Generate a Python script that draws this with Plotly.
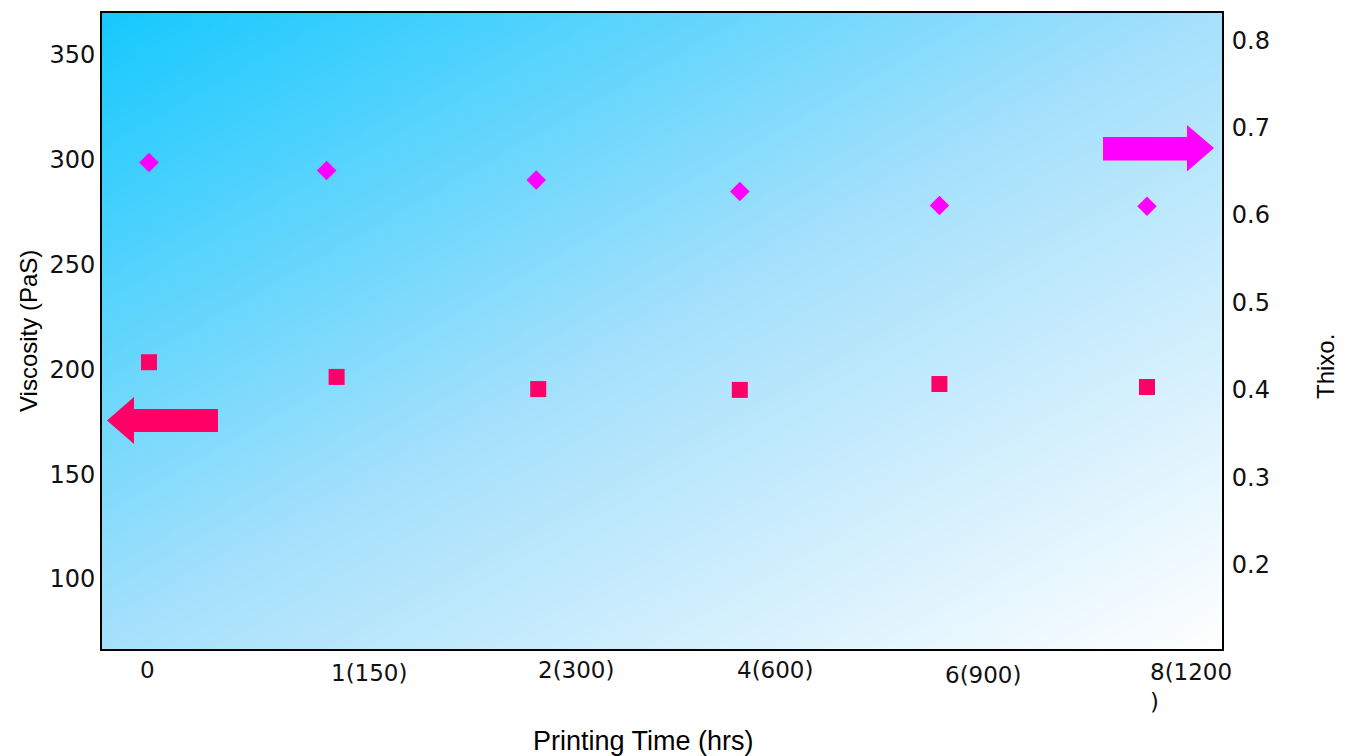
import base64, struct, zlib
import numpy as np
import plotly.graph_objects as go

# ---------------- data ----------------
categories = ["0", "1(150)", "2(300)", "4(600)", "6(900)", "8(1200<br>)"]
x_thixo = [0.0, 0.89, 1.94, 2.96, 3.96, 5.0]
thixo = [0.660, 0.651, 0.640, 0.627, 0.611, 0.610]
x_visc = [0.0, 0.94, 1.95, 2.96, 3.96, 5.0]
viscosity = [203.4, 196.4, 190.6, 190.2, 193.0, 191.6]
left_ticks = [100, 150, 200, 250, 300, 350]
right_ticks = [0.2, 0.3, 0.4, 0.5, 0.6, 0.7, 0.8]

# label nudges (style only)
label_dx = [-11, -8, -2, -5, 4, 1]
label_dy = [0, -3, 0, 0, -5, -2]

# ---------------- layout geometry ----------------
W, H = 1349, 756
L, R, T, B = 102, 1222, 13, 649
PW, PH = R - L, B - T


def px(x, y):
    return (x - L) / PW, (B - y) / PH


# ---------------- gradient background (PNG) ----------------
def gradient_png(w, h):
    u = np.linspace(0, 1, w)[None, :]
    v = np.linspace(0, 1, h)[:, None]
    t = (u + v) / 2.0
    c0 = np.array([22, 201, 254], float)
    c1 = np.array([166, 225, 252], float)
    c2 = np.array([255, 255, 255], float)
    t3 = t[..., None]
    a = np.where(t3 < 0.5, c0 + (c1 - c0) * (t3 / 0.5), c1 + (c2 - c1) * ((t3 - 0.5) / 0.5))
    img = np.clip(a, 0, 255).astype(np.uint8)
    raw = b"".join(b"\x00" + img[i].tobytes() for i in range(h))

    def chunk(tag, data):
        c = struct.pack(">I", len(data)) + tag + data
        return c + struct.pack(">I", zlib.crc32(tag + data) & 0xFFFFFFFF)

    png = b"\x89PNG\r\n\x1a\n" + chunk(b"IHDR", struct.pack(">IIBBBBB", w, h, 8, 2, 0, 0, 0))
    png += chunk(b"IDAT", zlib.compress(raw, 9)) + chunk(b"IEND", b"")
    return "data:image/png;base64," + base64.b64encode(png).decode()


bg = gradient_png(PW, PH)

fig = go.Figure()
fig.add_trace(go.Scatter(
    x=x_visc, y=viscosity, mode="markers", yaxis="y",
    marker=dict(symbol="square", size=16, color="#ff0066", line=dict(width=0)),
    showlegend=False,
))
fig.add_trace(go.Scatter(
    x=x_thixo, y=thixo, mode="markers", yaxis="y2",
    marker=dict(symbol="diamond", size=15, color="#ff00ff", line=dict(width=0)),
    showlegend=False,
))

tick_font = dict(family="DejaVu Sans, sans-serif", size=24, color="#111111")
title_font = dict(family="Liberation Sans, Arial, sans-serif", size=24, color="#000000")

fig.update_layout(
    width=W, height=H,
    margin=dict(l=L, r=W - R, t=T, b=H - B, pad=0),
    paper_bgcolor="white",
    plot_bgcolor="rgba(0,0,0,0)",
    xaxis=dict(range=[-(149 - L) / 199.6, 5 + (R - 1147) / 199.6], showgrid=False, zeroline=False,
               showticklabels=False, ticks="", showline=True, linecolor="black", linewidth=2, mirror=True),
    yaxis=dict(range=[66.6, 370.0], tickvals=left_ticks, showgrid=False, zeroline=False, ticks="",
               tickfont=tick_font, ticklabelstandoff=0, showline=True, linecolor="black", linewidth=2,
               mirror=True),
    yaxis2=dict(range=[0.104, 0.831], tickvals=right_ticks, overlaying="y", side="right", showgrid=False,
                zeroline=False, ticks="", tickfont=tick_font, ticklabelstandoff=3,
                showline=True, linecolor="black", linewidth=2),
    images=[dict(source=bg, xref="paper", yref="paper", x=0, y=1, sizex=1, sizey=1,
                 sizing="stretch", layer="below", xanchor="left", yanchor="top")],
)

# category labels (left-aligned at each group's position)
ann = []
for i, lab in enumerate(categories):
    ann.append(dict(x=x_visc[i], y=-0.01, xref="x", yref="paper", text=lab, showarrow=False,
                    xanchor="left", yanchor="top", align="left", xshift=label_dx[i], yshift=label_dy[i],
                    font=dict(family="DejaVu Sans, sans-serif", size=23, color="#111111")))
# axis titles
ann.append(dict(x=(643 - L) / PW, y=(B - 741) / PH, xref="paper", yref="paper", text="Printing Time (hrs)",
                showarrow=False, font=dict(family="Liberation Sans, Arial, sans-serif", size=27, color="#000"),
                xanchor="center", yanchor="middle"))
ann.append(dict(x=(28 - L) / PW, y=(B - 331) / PH, xref="paper", yref="paper", text="Viscosity (PaS)",
                showarrow=False, font=title_font, textangle=-90, xanchor="center", yanchor="middle"))
ann.append(dict(x=(1325 - L) / PW, y=(B - 367) / PH, xref="paper", yref="paper", text="Thixo.",
                showarrow=False, font=title_font, textangle=-90, xanchor="center", yanchor="middle"))
fig.update_layout(annotations=ann)


def arrow_path(points):
    pts = [px(x, y) for x, y in points]
    return "M " + " L ".join(f"{a:.5f},{b:.5f}" for a, b in pts) + " Z"


left_arrow = [(107, 420.5), (134, 397), (134, 409), (218, 409), (218, 432), (134, 432), (134, 444)]
right_arrow = [(1214, 148), (1187, 125), (1187, 137), (1103, 137), (1103, 160.5), (1187, 160.5), (1187, 171.5)]
fig.add_shape(type="path", path=arrow_path(left_arrow), xref="paper", yref="paper",
              fillcolor="#ff0066", line=dict(width=0))
fig.add_shape(type="path", path=arrow_path(right_arrow), xref="paper", yref="paper",
              fillcolor="#ff00ff", line=dict(width=0))

fig.write_html("out.html")
